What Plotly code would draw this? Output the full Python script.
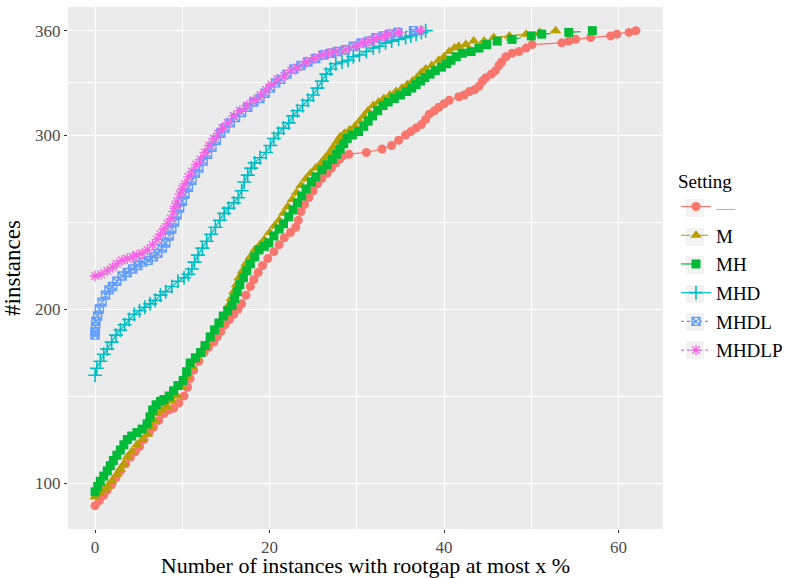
import plotly.graph_objects as go

# ---- data (x = rootgap %, y = #instances) ----
SETTINGS = ["\u2014", "M", "MH", "MHD", "MHDL", "MHDLP"]

S_NONE = [(0,87),(0.5,90),(1.0,93),(1.4,96),(1.9,99),(2.4,103),(2.9,107),(3.5,111),(4.05,115),
          (4.6,118),(5.1,121),(5.6,125),(6.2,129),(6.7,132),(7.3,136),(7.9,140),(8.4,142),(9.0,143),
          (9.6,146),(10.2,150),(10.6,155),(10.9,160),(11.3,165),(11.9,170),(12.5,175),(13.0,178),
          (13.6,181),(14.0,184),(14.4,187),(14.9,191),(15.4,194),(15.9,197),(16.4,200),(16.8,203),
          (17.3,208),(17.8,213),(18.2,217),(18.7,221),(19.2,225),(19.8,229),(20.5,233),(21.1,237),
          (21.7,241),(22.4,244),(23.0,247),(23.3,251),(23.6,256),(24.0,260),(24.5,264),(25.0,268),
          (25.5,272),(26.0,275),(26.6,278),(27.1,281),(27.6,284),(28.0,286),(28.4,288),(29.1,289),
          (31.1,290),(32.9,292),(34.0,294),(34.8,297),(35.6,300),(36.2,302),(36.8,304),(37.4,306),
          (37.9,309),(38.3,312),(38.9,314),(39.4,316),(40.0,318),(40.6,320),(41.7,322),(42.3,323),
          (42.9,325),(43.5,326),(44.0,328),(44.4,331),(44.8,333),(45.4,335),(45.9,337),(46.3,340),
          (46.6,342),(47.1,345),(47.8,347),(48.6,348),(49.4,350),(50.1,352),(53.5,353),(54.3,354),
          (55.1,355),(56.8,356),(59.1,357),(59.8,358),(61.2,359),(62.0,360)]

S_M = [(0,92),(0.5,94),(1.0,96),(1.4,98),(1.9,101),(2.5,105),(2.9,108),(3.3,111),(3.7,115),
       (4.2,118),(4.8,122),(5.4,125),(6.0,128),(6.4,132),(6.8,136),(7.1,140),(7.6,142),(8.25,144),
       (8.8,147),(9.4,150),(9.9,155),(10.5,161),(11.1,167),(11.7,172),(12.2,176),(12.8,180),
       (13.3,184),(13.8,188),(14.3,192),(14.8,196),(15.3,202),(15.6,206),(15.9,210),(16.2,214),
       (16.5,218),(16.9,222),(17.3,226),(17.8,230),(18.3,234),(18.9,237),(19.4,240),(20.0,244),
       (20.6,248),(21.1,251),(21.6,255),(22.1,259),(22.6,263),(23.1,267),(23.6,271),(24.2,275),
       (24.7,278),(25.3,281),(25.9,284),(26.4,287),(26.9,290),(27.3,293),(27.7,296),(28.1,299),
       (28.6,301),(29.2,303),(29.8,305),(30.3,308),(30.8,311),(31.3,314),(31.9,317),(32.5,319),
       (33.1,321),(33.8,323),(34.5,325),(35.2,327),(35.8,329),(36.4,331),(36.9,333),(37.4,336),
       (37.9,338),(38.6,340),(39.4,343),(40.0,345),(40.6,348),(41.2,350),(41.7,351),(42.5,352),
       (43.4,354),(44.6,354),(45.7,356),(47.5,357),(49.4,358),(51.0,359),(52.8,360)]

S_MH = [(0,95),(0.3,98),(0.6,101),(1.0,104),(1.4,107),(1.75,110),(2.1,113),(2.5,116),(2.9,119),
        (3.3,122),(3.7,125),(4.2,127),(4.8,129),(5.4,131),(5.96,134),(6.3,138),(6.6,142),(7.0,145),
        (7.5,147),(7.9,148),(8.5,150),(9.0,153),(9.5,156),(10.1,159),(10.5,164),(10.9,169),
        (11.5,172),(12.1,175),(12.6,179),(13.2,184),(13.7,188),(14.2,192),(14.7,196),(15.2,199),
        (15.7,202),(16.0,206),(16.3,210),(16.6,214),(17.0,218),(17.4,222),(17.8,226),(18.3,230),
        (18.8,234),(19.4,236),(19.9,238),(20.5,242),(21.1,246),(21.6,249),(22.2,253),(22.7,257),
        (23.2,261),(23.7,265),(24.2,269),(24.8,273),(25.3,276),(26.0,280),(26.6,283),(27.2,286),
        (27.7,289),(28.1,292),(28.5,295),(28.9,298),(29.5,300),(30.2,302),(30.8,305),(31.3,308),
        (31.8,311),(32.4,314),(33.0,317),(33.6,319),(34.3,321),(35.0,323),(35.7,325),(36.3,327),
        (36.8,329),(37.3,331),(37.8,333),(38.4,335),(39.0,337),(39.7,339),(40.3,341),(40.8,343),
        (41.4,345),(42.1,347),(43.1,348),(44.0,350),(44.9,352),(46.1,354),(47.8,355),(50.0,357),
        (51.2,358),(54.3,359),(57.0,360)]

S_MHD = [(0,162),(0.2,166),(0.6,170),(1.0,174),(1.4,177),(1.9,181),(2.4,185),(2.9,188),(3.4,191),
         (3.9,194),(4.5,197),(5.1,199),(5.7,201),(6.3,203),(6.9,205),(7.5,208),(8.1,210),(8.8,213),
         (9.5,216),(10.2,218),(10.7,220),(11.1,223),(11.4,227),(11.8,231),(12.3,235),(12.8,239),
         (13.3,243),(13.8,247),(14.3,251),(14.8,255),(15.3,258),(15.9,261),(16.4,264),(16.8,268),
         (17.1,273),(17.5,277),(17.9,281),(18.3,284),(18.9,287),(19.6,290),(20.1,294),(20.5,298),
         (21.0,301),(21.6,304),(22.2,307),(22.7,311),(23.2,314),(23.8,317),(24.4,320),(25.0,323),
         (25.5,327),(26.0,331),(26.5,335),(27.0,338),(27.6,341),(28.3,342),(29.0,343),(29.6,345),
         (30.3,346),(31.1,348),(31.9,350),(32.6,351),(33.3,353),(34.0,354),(34.8,355),(35.6,356),
         (36.2,357),(36.8,358),(37.4,359),(37.9,360)]

S_MHDL = [(0,185),(0,187),(0.05,190),(0.1,193),(0.3,196),(0.5,200),(0.8,204),(1.2,208),(1.6,211),
          (2.0,213),(2.5,216),(3.1,219),(3.7,221),(4.3,223),(4.9,225),(5.5,227),(6.1,228),(6.7,230),
          (7.2,232),(7.7,235),(8.1,238),(8.5,242),(8.8,246),(9.1,250),(9.4,254),(9.7,258),(10.0,262),
          (10.3,266),(10.7,270),(11.1,274),(11.5,278),(11.9,281),(12.4,285),(12.9,289),(13.4,293),
          (13.9,297),(14.4,301),(14.9,304),(15.5,307),(16.1,310),(16.8,313),(17.5,316),(18.2,319),
          (18.9,321),(19.5,324),(20.1,327),(20.7,330),(21.3,332),(22.0,335),(22.8,338),(23.6,340),
          (24.4,342),(25.3,344),(26.2,346),(27.0,347),(27.8,348),(28.7,349),(29.6,351),(30.5,353),
          (31.4,354),(32.2,356),(33.0,357),(33.8,358),(34.7,359),(36.5,360)]

S_MHDLP = [(0,219),(0.7,220),(1.4,222),(2.0,224),(2.5,226),(3.1,228),(3.7,229),(4.3,230),(4.8,231),
           (5.4,232),(6.0,234),(6.6,237),(7.1,240),(7.5,243),(7.9,246),(8.3,249),(8.7,252),(9.0,256),
           (9.2,259),(9.4,262),(9.7,266),(10.0,269),(10.3,272),(10.7,276),(11.1,279),(11.6,283),
           (12.1,286),(12.6,290),(13.1,294),(13.6,298),(14.1,301),(14.6,304),(15.2,307),(15.9,311),
           (16.6,314),(17.4,317),(18.2,320),(19.0,323),(19.6,326),(20.2,329),(20.9,332),(21.7,334),
           (22.5,337),(23.2,339),(24.2,342),(25.1,344),(26.0,346),(26.8,347),(27.6,348),(28.7,349),
           (29.9,351),(30.7,353),(31.4,354),(32.0,355),(32.6,356),(33.2,357),(33.7,358),(34.8,359),
           (37.3,360)]

SERIES = [S_NONE, S_M, S_MH, S_MHD, S_MHDL, S_MHDLP]

X_TICKS = [0, 20, 40, 60]
X_MINOR = [10, 30, 50]
Y_TICKS = [100, 200, 300, 360]
Y_MINOR = [150, 250, 330]
X_TITLE = "Number of instances with rootgap at most x %"
Y_TITLE = "#instances"
LEGEND_TITLE = "Setting"

# ---- styles ----
COLORS = ["#F8766D", "#B79F00", "#00BA38", "#00BFC4", "#619CFF", "#F564E3"]
SYMBOLS = ["circle", "triangle-up", "square", "cross-thin-open", "square-x-open", "asterisk-open"]
SIZES = [9, 10, 9, 10, 8, 9]
LWIDTH = [0, 0, 0, 1.6, 1.4, 1.3]
DASHES = ["solid", "dash", "longdash", "solid", "dot", "dot"]

SERIF = "'Liberation Serif', 'Times New Roman', 'DejaVu Serif', serif"

fig = go.Figure()
for name, data, col, sym, sz, lw, dash in zip(SETTINGS, SERIES, COLORS, SYMBOLS, SIZES, LWIDTH, DASHES):
    xs = [p[0] for p in data]
    ys = [p[1] for p in data]
    label = name if name != "\u2014" else "<span style='color:#B3B3B3'>\u2014</span>"
    fig.add_trace(go.Scatter(
        x=xs, y=ys, mode="lines+markers", name=label, legendgroup=name,
        line=dict(color=col, width=1.2, dash=dash),
        marker=dict(symbol=sym, size=sz, color=col, line=dict(color=col, width=lw)),
    ))

# grey key backgrounds of the legend (ggplot style), in pixel positions of the page
PLOT_L, PLOT_R, PLOT_T, PLOT_B = 68, 663, 7, 529
PW, PH = PLOT_R - PLOT_L, PLOT_B - PLOT_T
KEY_CENTERS = [208, 237, 265, 294, 322, 350]
for c in KEY_CENTERS:
    fig.add_shape(
        type="rect", xref="paper", yref="paper", layer="below",
        x0=(686 - PLOT_L) / PW, x1=(704 - PLOT_L) / PW,
        y0=(PLOT_B - (c + 9)) / PH, y1=(PLOT_B - (c - 9)) / PH,
        fillcolor="#F2F2F2", line=dict(width=0),
    )

axis_common = dict(
    showgrid=True, gridcolor="white", gridwidth=1.2, zeroline=False,
    ticks="outside", ticklen=3, tickwidth=1.1, tickcolor="#333333",
    tickfont=dict(family=SERIF, size=17, color="#4D4D4D"),
    showline=False, automargin=False,
)

fig.update_layout(
    width=791, height=578,
    margin=dict(l=PLOT_L, r=791 - PLOT_R, t=PLOT_T, b=578 - PLOT_B),
    paper_bgcolor="white", plot_bgcolor="#EBEBEB",
    font=dict(family=SERIF, color="black"),
    xaxis=dict(range=[-3.1, 65.1], tickmode="array", tickvals=X_TICKS,
               minor=dict(tickvals=X_MINOR, showgrid=True, gridcolor="white", gridwidth=0.6, ticks=""),
               title=dict(text=X_TITLE, font=dict(family=SERIF, size=22, color="black"), standoff=6),
               **axis_common),
    yaxis=dict(range=[73.6, 373.6], tickmode="array", tickvals=Y_TICKS,
               minor=dict(tickvals=Y_MINOR, showgrid=True, gridcolor="white", gridwidth=0.6, ticks=""),
               title=dict(text=Y_TITLE, font=dict(family=SERIF, size=23, color="black"), standoff=8),
               **axis_common),
    legend=dict(
        title=dict(text=LEGEND_TITLE, font=dict(family=SERIF, size=19, color="black")),
        font=dict(family=SERIF, size=19, color="black"),
        x=676 / 791, xref="container", xanchor="left",
        y=1 - 163 / 578, yref="container", yanchor="top",
        bgcolor="rgba(0,0,0,0)", tracegroupgap=1, itemwidth=30,
    ),
    showlegend=True,
)

fig.write_html("out.html")
